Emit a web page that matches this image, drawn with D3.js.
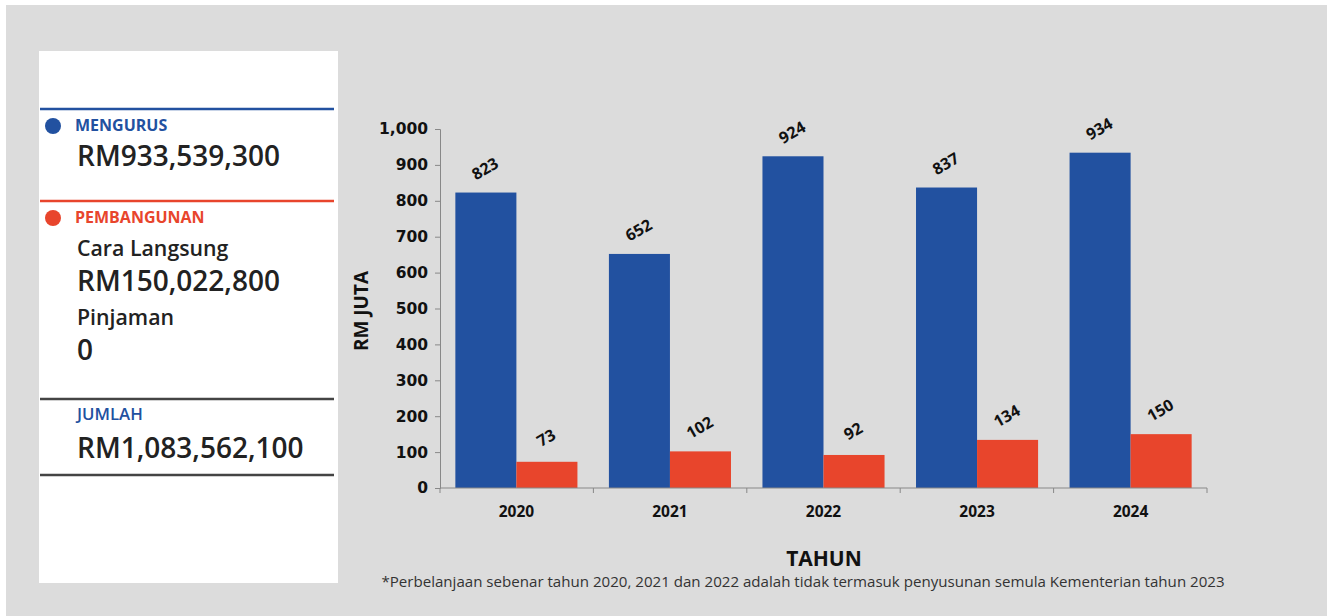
<!DOCTYPE html>
<html>
<head>
<meta charset="utf-8">
<script src="https://cdn.jsdelivr.net/npm/d3@7"></script>
<style>
  body { margin: 0; background: #fff; }
  svg { display: block; font-family: 'Open Sans', 'Noto Sans', sans-serif; }
</style>
</head>
<body>
<svg id="chart" width="1333" height="616"></svg>
<script>
const years = ['2020', '2021', '2022', '2023', '2024'];
const mengurus = [823, 652, 924, 837, 934];
const pembangunan = [73, 102, 92, 134, 150];
const seriesNames = ['Mengurus', 'Pembangunan'];
const yTicks = [0, 100, 200, 300, 400, 500, 600, 700, 800, 900, 1000];

const BLUE = '#2251a0';
const RED = '#e8452c';

const svg = d3.select('#chart');

svg.append('rect')
   .attr('x', 6).attr('y', 5)
   .attr('width', 1321).attr('height', 611)
   .attr('fill', '#dcdcdc');

// left summary panel
const panel = svg.append('g');
panel.append('rect')
     .attr('x', 39).attr('y', 51)
     .attr('width', 299).attr('height', 532)
     .attr('fill', '#fff');

const rule = (y, color) => panel.append('line')
  .attr('x1', 40).attr('x2', 334).attr('y1', y).attr('y2', y)
  .attr('stroke', color).attr('stroke-width', 2.5);
rule(109, BLUE);
rule(201, RED);
rule(399, '#444');
rule(475, '#444');

const txt = (x, y, s, size, weight, color) => panel.append('text')
  .attr('x', x).attr('y', y)
  .attr('font-size', size).attr('font-weight', weight)
  .attr('fill', color).text(s);

panel.append('circle').attr('cx', 53).attr('cy', 126).attr('r', 8).attr('fill', BLUE);
txt(75, 131, 'MENGURUS', 16, 700, BLUE);
txt(77, 166, 'RM933,539,300', 28, 600, '#222');

panel.append('circle').attr('cx', 53).attr('cy', 218).attr('r', 8).attr('fill', RED);
txt(75, 223, 'PEMBANGUNAN', 16, 700, RED);
txt(77, 256, 'Cara Langsung', 21.3, 600, '#222');
txt(77, 291, 'RM150,022,800', 28, 600, '#222');
txt(77, 325, 'Pinjaman', 21.3, 600, '#222');
txt(77, 360, '0', 28, 600, '#222');

txt(77, 420, 'JUMLAH', 16.8, 600, BLUE);
txt(77, 458, 'RM1,083,562,100', 28, 600, '#222');

// bar chart
const margin = {left: 440, right: 126, top: 129, bottom: 128};
const width = 1333 - margin.left - margin.right;
const height = 616 - margin.top - margin.bottom;

const g = svg.append('g')
             .attr('transform', `translate(${margin.left}, ${margin.top})`);

const x0 = d3.scaleBand()
             .domain(years)
             .range([0, width])
             .paddingInner(0.205)
             .paddingOuter(0.1);

const x1 = d3.scaleBand()
             .domain(seriesNames)
             .range([0, x0.bandwidth()]);

const yScale = d3.scaleLinear()
                 .domain([0, 1000])
                 .range([height, 0]);

const color = d3.scaleOrdinal().domain(seriesNames).range([BLUE, RED]);

const rows = years.map((yr, i) => ({
  year: yr,
  values: [
    {key: 'Mengurus', value: mengurus[i]},
    {key: 'Pembangunan', value: pembangunan[i]}
  ]
}));

// y axis
const yAxis = d3.axisLeft(yScale)
                .tickValues(yTicks)
                .tickSize(5)
                .tickPadding(7)
                .tickFormat(d3.format(','));
const yg = g.append('g').call(yAxis);
yg.select('.domain').attr('stroke', '#888');
yg.selectAll('.tick line').attr('stroke', '#888');
yg.selectAll('.tick text')
  .attr('font-size', 15.5).attr('font-weight', 700)
  .attr('fill', '#111')
  .attr('font-family', "'DejaVu Sans', sans-serif");

// bars
const groups = g.selectAll('.year')
                .data(rows)
                .join('g')
                .attr('class', 'year')
                .attr('transform', d => `translate(${x0(d.year)}, 0)`);

groups.selectAll('rect')
      .data(d => d.values)
      .join('rect')
      .attr('x', d => x1(d.key))
      .attr('width', x1.bandwidth())
      .attr('y', d => yScale(d.value))
      .attr('height', d => height - yScale(d.value))
      .attr('fill', d => color(d.key));

groups.selectAll('.val')
      .data(d => d.values)
      .join('text')
      .attr('class', 'val')
      .attr('transform', d => `translate(${x1(d.key) + x1.bandwidth() / 2 + 2}, ${yScale(d.value) - 19}) rotate(-30)`)
      .attr('text-anchor', 'middle')
      .attr('font-size', 16).attr('font-weight', 700)
      .attr('fill', '#111')
      .text(d => d.value);

// x axis: ticks at band boundaries
const boundaries = d3.range(years.length + 1).map(i => i * width / years.length);
const xg = g.append('g').attr('transform', `translate(0, ${height})`);
xg.append('line')
  .attr('x1', 0).attr('x2', width)
  .attr('stroke', '#888');
xg.selectAll('.bt')
  .data(boundaries)
  .join('line')
  .attr('x1', d => d).attr('x2', d => d)
  .attr('y1', 0).attr('y2', 5)
  .attr('stroke', '#888');
xg.selectAll('.yl')
  .data(years)
  .join('text')
  .attr('x', d => x0(d) + x0.bandwidth() / 2)
  .attr('y', 29)
  .attr('text-anchor', 'middle')
  .attr('font-size', 15.5).attr('font-weight', 700)
  .attr('fill', '#111')
  .text(d => d);

// axis titles
svg.append('text')
   .attr('transform', 'translate(368, 311) rotate(-90)')
   .attr('text-anchor', 'middle')
   .attr('font-size', 19).attr('font-weight', 700)
   .attr('fill', '#111')
   .text('RM JUTA');

svg.append('text')
   .attr('x', 824).attr('y', 566)
   .attr('text-anchor', 'middle')
   .attr('font-size', 21).attr('font-weight', 700)
   .attr('fill', '#111')
   .text('TAHUN');

svg.append('text')
   .attr('x', 803).attr('y', 587)
   .attr('text-anchor', 'middle')
   .attr('font-size', 15.1)
   .attr('fill', '#333')
   .text('*Perbelanjaan sebenar tahun 2020, 2021 dan 2022 adalah tidak termasuk penyusunan semula Kementerian tahun 2023');
</script>
</body>
</html>
